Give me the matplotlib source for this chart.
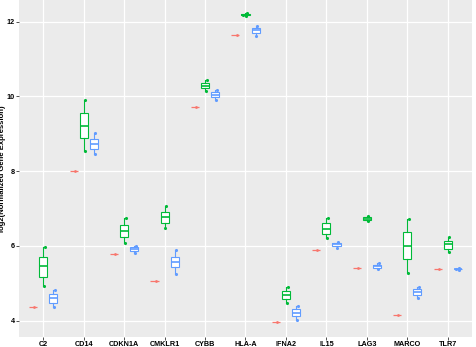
import numpy as np
import matplotlib
matplotlib.use("Agg")
import matplotlib.pyplot as plt

genes = ["C2", "CD14", "CDKN1A", "CMKLR1", "CYBB", "HLA-A",
         "IFNA2", "IL15", "LAG3", "MARCO", "TLR7"]

# single-sample group (red)
red_vals = [4.37, 8.01, 5.78, 5.06, 9.73, 11.64, 3.97, 5.89, 5.40, 4.15, 5.38]

# (whislo, q1, med, q3, whishi)
green_stats = [
    (4.93, 5.18, 5.45, 5.69, 5.96),
    (8.53, 8.88, 9.22, 9.55, 9.90),
    (6.08, 6.25, 6.41, 6.57, 6.74),
    (6.48, 6.62, 6.77, 6.91, 7.07),
    (10.14, 10.22, 10.29, 10.37, 10.45),
    (12.15, 12.17, 12.19, 12.21, 12.23),
    (4.46, 4.58, 4.69, 4.79, 4.89),
    (6.20, 6.33, 6.46, 6.60, 6.75),
    (6.66, 6.69, 6.73, 6.77, 6.80),
    (5.28, 5.64, 6.00, 6.36, 6.71),
    (5.83, 5.93, 6.04, 6.14, 6.24),
]
blue_stats = [
    (4.36, 4.48, 4.61, 4.70, 4.82),
    (8.45, 8.60, 8.73, 8.86, 9.01),
    (5.82, 5.86, 5.91, 5.97, 6.01),
    (5.25, 5.43, 5.58, 5.71, 5.89),
    (9.91, 9.98, 10.05, 10.13, 10.17),
    (11.63, 11.70, 11.77, 11.84, 11.88),
    (4.03, 4.13, 4.21, 4.31, 4.38),
    (5.95, 5.99, 6.04, 6.08, 6.11),
    (5.38, 5.41, 5.46, 5.50, 5.55),
    (4.61, 4.69, 4.76, 4.84, 4.89),
    (5.36, 5.37, 5.38, 5.39, 5.40),
]

RED, GREEN, BLUE = "#F8766D", "#00BA38", "#619CFF"
plt.rcParams["font.family"] = ["Liberation Sans", "DejaVu Sans"]
plt.rcParams["font.weight"] = "bold"

fig = plt.figure(figsize=(4.76, 3.47), dpi=100)
ax = fig.add_axes([19 / 476, 1 - 336.7 / 347, 453 / 476, 336.7 / 347])
ax.set_facecolor("#EBEBEB")

x = np.arange(len(genes))
off = 0.25
jit = [0.04, -0.05, 0.02]


def to_dict(s):
    return dict(whislo=s[0], q1=s[1], med=s[2], q3=s[3], whishi=s[4])


def draw(stats, pos, color):
    # data points behind the boxes
    for i, s in enumerate(stats):
        pts = [s[4], s[2], s[0]]
        ax.scatter(pos[i] + np.array(jit), pts, s=5, color=color,
                   zorder=2, linewidths=0)
    ax.bxp([to_dict(s) for s in stats], positions=pos, widths=0.2,
           showfliers=False, showcaps=False, patch_artist=True,
           boxprops=dict(facecolor="white", edgecolor=color, linewidth=0.8),
           medianprops=dict(color=color, linewidth=1.2),
           whiskerprops=dict(color=color, linewidth=0.8),
           manage_ticks=False, zorder=3)


draw(green_stats, x, GREEN)
draw(blue_stats, x + off, BLUE)

# red group: one sample per gene -> flat box plus the point
ax.hlines(red_vals, x - off - 0.1, x - off + 0.1, color=RED,
          linewidth=0.9, zorder=3)
ax.scatter(x - off + 0.03, red_vals, s=4, color=RED, linewidths=0, zorder=4)

ax.set_xlim(-0.6, len(genes) - 0.4)
ax.set_ylim(3.57, 12.58)
ax.set_xticks(x)
ax.set_xticklabels(genes)
ax.set_yticks([4, 6, 8, 10, 12])
ax.grid(True, color="white", linewidth=0.9)
ax.set_axisbelow(True)
for sp in ax.spines.values():
    sp.set_visible(False)
ax.tick_params(axis="both", length=2.2, width=0.6, color="#333333",
               labelsize=5.2, labelcolor="black", pad=1)
ax.set_ylabel("log2(Normalized Gene Expression)", fontsize=5.5,
              fontweight="bold")
ax.yaxis.set_label_coords(-0.0287, 0.5)

fig.savefig("out.png", dpi=100)
